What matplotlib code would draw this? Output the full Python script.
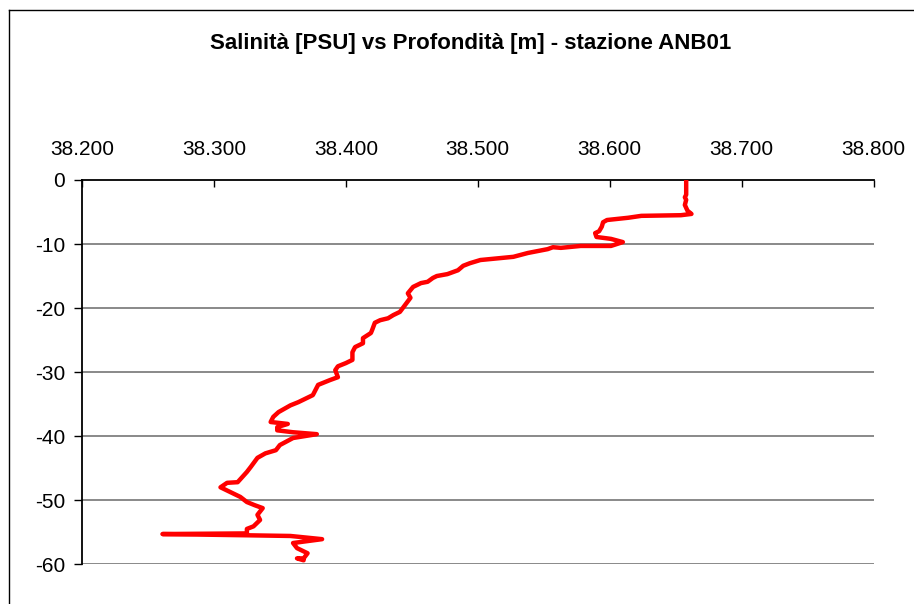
import matplotlib.pyplot as plt
from matplotlib.lines import Line2D

# salinity profile, station ANB01
salinity = [38.658, 38.658, 38.657, 38.658, 38.657, 38.659, 38.662, 38.654, 38.624, 38.614,
            38.598, 38.595, 38.594, 38.592, 38.589, 38.590, 38.601, 38.610, 38.601, 38.578,
            38.563, 38.557, 38.553, 38.538, 38.527, 38.517, 38.502, 38.494, 38.489, 38.485,
            38.477, 38.469, 38.466, 38.462, 38.457, 38.451, 38.447, 38.449, 38.445, 38.441,
            38.436, 38.432, 38.426, 38.422, 38.420, 38.419, 38.413, 38.413, 38.407, 38.405,
            38.405, 38.400, 38.394, 38.392, 38.394, 38.388, 38.379, 38.375, 38.364, 38.358,
            38.349, 38.345, 38.343, 38.356, 38.348, 38.348, 38.360, 38.378, 38.360, 38.350,
            38.347, 38.339, 38.333, 38.328, 38.325, 38.318, 38.310, 38.305, 38.320, 38.325,
            38.331, 38.337, 38.333, 38.335, 38.330, 38.325, 38.325, 38.261, 38.327, 38.358,
            38.382, 38.360, 38.363, 38.371, 38.368, 38.363, 38.368]
depth = [0.0, -2.3, -2.7, -3.1, -3.9, -4.8, -5.3, -5.5, -5.6, -5.9,
         -6.25, -6.6, -7.3, -8.0, -8.3, -8.9, -9.2, -9.7, -10.3, -10.3,
         -10.6, -10.5, -10.8, -11.4, -12.0, -12.2, -12.5, -13.0, -13.4, -14.1,
         -14.7, -15.0, -15.3, -15.9, -16.1, -16.7, -17.7, -18.4, -19.5, -20.6,
         -21.1, -21.6, -21.9, -22.3, -23.4, -23.9, -24.7, -25.5, -26.1, -26.9,
         -28.1, -28.6, -29.1, -29.7, -30.8, -31.25, -32.0, -33.6, -34.7, -35.2,
         -36.25, -37.0, -37.8, -38.1, -38.6, -39.1, -39.4, -39.7, -40.3, -41.4,
         -42.2, -42.7, -43.4, -44.8, -45.6, -47.2, -47.3, -48.0, -49.5, -50.3,
         -50.8, -51.25, -52.3, -53.1, -54.1, -54.5, -55.2, -55.3, -55.5, -55.6,
         -56.1, -56.7, -57.5, -58.3, -59.1, -59.1, -59.4]

xticks = [38.2, 38.3, 38.4, 38.5, 38.6, 38.7, 38.8]
yticks = [0, -10, -20, -30, -40, -50, -60]

plt.rcParams['font.family'] = ['Liberation Sans', 'DejaVu Sans']

fig = plt.figure(figsize=(9.14, 6.04), dpi=100)
ax = fig.add_axes([0.0897, 0.066, 0.866, 0.636])

# chart border (only left and top edges are visible in the original)
fig.add_artist(Line2D([9 / 914, 9 / 914], [0, 1 - 10 / 604], transform=fig.transFigure,
                      color='black', lw=1))
fig.add_artist(Line2D([9 / 914, 1], [1 - 10 / 604, 1 - 10 / 604], transform=fig.transFigure,
                      color='black', lw=1))

ax.plot(salinity, depth, color='#ff0000', lw=3.2, solid_capstyle='round',
        solid_joinstyle='round', zorder=3)

ax.set_xlim(38.2, 38.8)
ax.set_ylim(-60, 0)
ax.xaxis.tick_top()
ax.set_xticks(xticks)
ax.set_xticklabels(['%.3f' % v for v in xticks])
ax.set_yticks(yticks)
ax.set_yticklabels(['%d' % v for v in yticks])
ax.tick_params(axis='x', direction='in', length=5, width=1, pad=15, labelsize=15)
ax.tick_params(axis='y', direction='out', length=6, width=1, pad=6, labelsize=15)

for v in yticks[1:]:
    ax.axhline(v, color='#808080', lw=1.3, zorder=1)

ax.spines['right'].set_visible(False)
ax.spines['bottom'].set_visible(False)
ax.spines['top'].set_linewidth(1.3)
ax.spines['left'].set_linewidth(1.3)

fig.text(0.515, 1 - 43 / 604, 'Salinità [PSU] vs Profondità [m] - stazione ANB01',
         ha='center', va='center', fontsize=16, fontweight='bold')

fig.savefig('out.png', dpi=100)
